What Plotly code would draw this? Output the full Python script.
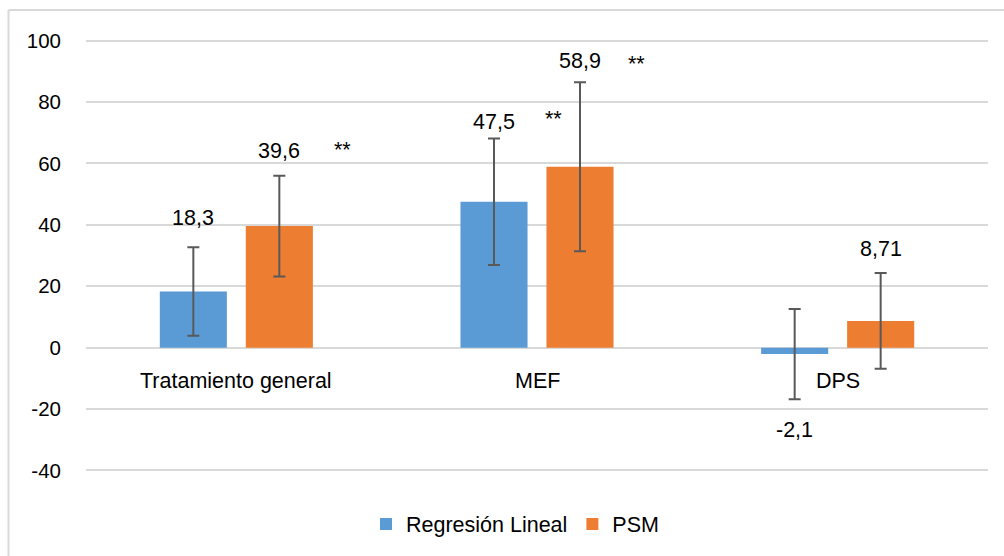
import plotly.graph_objects as go

# Categories and series
categories = ["Tratamiento general", "MEF", "DPS"]
series_names = ["Regresión Lineal", "PSM"]
reg_values = [18.3, 47.5, -2.1]
psm_values = [39.6, 58.9, 8.71]
reg_err = [14.4, 20.6, 14.7]
psm_err = [16.4, 27.5, 15.6]
reg_labels = ["18,3", "47,5", "-2,1"]
psm_labels = ["39,6", "58,9", "8,71"]
reg_sig = ["", "**", ""]
psm_sig = ["**", "**", ""]
y_ticks = [-40, -20, 0, 20, 40, 60, 80, 100]
y_tick_text = ["-40", "-20", "0", "20", "40", "60", "80", "100"]

# Layout geometry (pixels)
W, H = 1004, 556
ML, MR, MT, MB = 86, 16, 39, 84
PW, PH = W - ML - MR, H - MT - MB

BLUE = "#5B9BD5"
ORANGE = "#ED7D31"
GRID = "#D9D9D9"
ERR = "#595959"
FONT = "Liberation Sans, Arial, sans-serif"
FS = 21.5


def px_x(p):
    return (p - ML) / PW


def px_y(p):
    return (H - MB - p) / PH


fig = go.Figure()
for name, vals, errs, color in [
    (series_names[0], reg_values, reg_err, BLUE),
    (series_names[1], psm_values, psm_err, ORANGE),
]:
    fig.add_trace(go.Bar(
        name=name, x=categories, y=vals, marker=dict(color=color, line=dict(width=0)),
        error_y=dict(type="data", array=errs, visible=True, color=ERR, thickness=2, width=6),
    ))

annotations = []
# value labels: offset in pixels beyond the error bar end
label_shift = {0: [29, 17, -31], 1: [25, 21, 24]}
# significance marks: (x offset, y offset) relative to the value label
sig_shift = {0: [(0, 0), (59, 3), (0, 0)], 1: [(63, 1), (56, -3), (0, 0)]}
bar_shift = {0: -43, 1: 43}
for s, (vals, errs, labels, sigs) in enumerate([
    (reg_values, reg_err, reg_labels, reg_sig),
    (psm_values, psm_err, psm_labels, psm_sig),
]):
    for i, cat in enumerate(categories):
        end = vals[i] + errs[i] if label_shift[s][i] > 0 else vals[i] - errs[i]
        annotations.append(dict(
            x=cat, y=end, xref="x", yref="y", text=labels[i], showarrow=False,
            xshift=bar_shift[s], yshift=label_shift[s][i], yanchor="middle",
            font=dict(family=FONT, size=FS, color="#000000"),
        ))
        if sigs[i]:
            dx, dy = sig_shift[s][i]
            annotations.append(dict(
                x=cat, y=end, xref="x", yref="y", text=sigs[i], showarrow=False,
                xshift=bar_shift[s] + dx, yshift=label_shift[s][i] + dy, yanchor="middle",
                font=dict(family=FONT, size=FS, color="#000000"),
            ))

# category labels sit just below the zero line
for cat in categories:
    annotations.append(dict(
        x=cat, y=0, xref="x", yref="y", text=cat, showarrow=False,
        yshift=-33, yanchor="middle",
        font=dict(family=FONT, size=FS, color="#000000"),
    ))

shapes = [
    dict(type="line", xref="paper", yref="paper",
         x0=px_x(8.5), x1=px_x(8.5), y0=px_y(10), y1=px_y(H + 2),
         line=dict(color=GRID, width=2)),
    dict(type="line", xref="paper", yref="paper",
         x0=px_x(8.5), x1=px_x(W + 2), y0=px_y(10), y1=px_y(10),
         line=dict(color=GRID, width=2)),
]

fig.update_layout(
    width=W, height=H,
    margin=dict(l=ML, r=MR, t=MT, b=MB, pad=0),
    paper_bgcolor="white", plot_bgcolor="white",
    barmode="group", bargap=0.428, bargroupgap=0.22,
    font=dict(family=FONT, size=FS, color="#000000"),
    xaxis=dict(showticklabels=False, showgrid=False, zeroline=False, showline=False, ticks=""),
    yaxis=dict(range=[-40.5, 100.5], tickvals=y_ticks, ticktext=y_tick_text,
               showgrid=True, gridcolor=GRID,
               gridwidth=1.5, zeroline=False, showline=False, ticks="",
               ticklabelstandoff=24, tickfont=dict(family=FONT, size=20.5)),
    showlegend=True,
    legend=dict(orientation="h", x=px_x(366), y=px_y(524), xanchor="left", yanchor="middle",
                font=dict(family=FONT, size=FS), itemsizing="constant", traceorder="normal",
                bgcolor="rgba(0,0,0,0)"),
    annotations=annotations,
    shapes=shapes,
)

fig.write_html("out.html")
